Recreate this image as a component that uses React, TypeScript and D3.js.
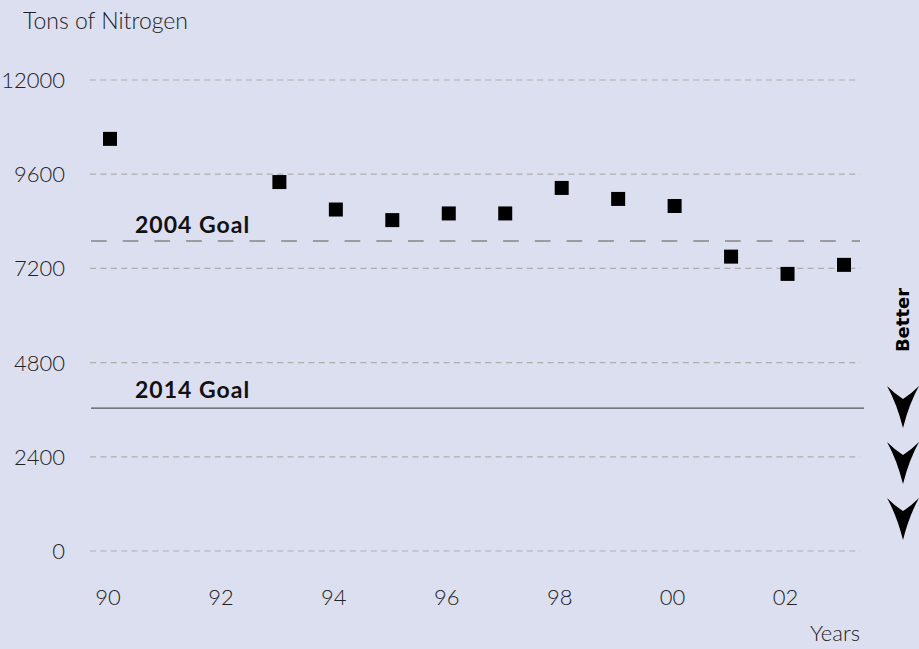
import React from "react";
import * as d3 from "d3";

const years = [1990, 1993, 1994, 1995, 1996, 1997, 1998, 1999, 2000, 2001, 2002, 2003];
const nitrogenTons = [10500, 9400, 8700, 8430, 8600, 8600, 9250, 8970, 8790, 7500, 7060, 7290];
const yTicks = [0, 2400, 4800, 7200, 9600, 12000];
const xTicks = [1990, 1992, 1994, 1996, 1998, 2000, 2002];
const xTickLabels = ["90", "92", "94", "96", "98", "00", "02"];
const goal2004 = 7900;
const goal2014 = 3640;
const arrowCount = [0, 1, 2];

const W = 919;
const H = 649;
const BG = "#dcdff0";
const FONT = "Lato, 'Open Sans', sans-serif";

export default function App() {
  const x = d3.scaleLinear().domain([1990, 2003]).range([110, 844]);
  const y = d3.scaleLinear().domain([0, 12000]).range([551, 80]);
  const gridX0 = 90;
  const gridX1 = 860;
  const sq = 14;

  const arrowPath = (top: number) => {
    const cx = 903;
    const p = d3.path();
    p.moveTo(cx - 16, top);
    p.quadraticCurveTo(cx - 8, top + 8, cx, top + 13);
    p.quadraticCurveTo(cx + 8, top + 8, cx + 16, top);
    p.quadraticCurveTo(cx + 6, top + 18, cx, top + 42);
    p.quadraticCurveTo(cx - 6, top + 18, cx - 16, top);
    p.closePath();
    return p.toString();
  };

  return (
    <svg
      width={W}
      height={H}
      style={{ position: "absolute", left: 0, top: 0, display: "block" }}
    >
      <rect x={0} y={0} width={W} height={H} fill={BG} />
      <text x={23} y={29} fontFamily={FONT} fontSize={23} fontWeight={300} fill="#222">
        Tons of Nitrogen
      </text>

      {yTicks.map((t) => (
        <g key={t}>
          <line
            x1={gridX0}
            x2={gridX1}
            y1={y(t)}
            y2={y(t)}
            stroke="#adadad"
            strokeWidth={1.2}
            strokeDasharray="6 4.4"
          />
          <text
            x={65}
            y={y(t)}
            dy="0.36em"
            textAnchor="end"
            fontFamily={FONT}
            fontSize={22}
            fontWeight={300}
            fill="#222"
          >
            {t}
          </text>
        </g>
      ))}

      {xTicks.map((t, i) => (
        <text
          key={t}
          x={x(t) - 2}
          y={605}
          textAnchor="middle"
          fontFamily={FONT}
          fontSize={22}
          fontWeight={300}
          fill="#222"
        >
          {xTickLabels[i]}
        </text>
      ))}
      <text x={860} y={641} textAnchor="end" fontFamily={FONT} fontSize={22} fontWeight={300} fill="#222">
        Years
      </text>

      <line
        x1={91}
        x2={gridX1}
        y1={y(goal2004)}
        y2={y(goal2004)}
        stroke="#858585"
        strokeWidth={1.6}
        strokeDasharray="15.7 16"
      />
      <text x={135} y={233} fontFamily={FONT} fontSize={23} fontWeight={700} letterSpacing={1} fill="#111">
        2004 Goal
      </text>

      <line x1={91} x2={864} y1={y(goal2014)} y2={y(goal2014)} stroke="#555" strokeWidth={1.4} />
      <text x={135} y={398} fontFamily={FONT} fontSize={23} fontWeight={700} letterSpacing={1} fill="#111">
        2014 Goal
      </text>

      {years.map((yr, i) => (
        <rect
          key={yr}
          x={x(yr) - sq / 2}
          y={y(nitrogenTons[i]) - sq / 2}
          width={sq}
          height={sq}
          fill="#000"
        />
      ))}

      <text
        transform="translate(909,320) rotate(-90)"
        textAnchor="middle"
        fontFamily="'DejaVu Sans', sans-serif"
        fontSize={18}
        fontWeight={700}
        fill="#000"
      >
        Better
      </text>
      {arrowCount.map((k) => (
        <path key={k} d={arrowPath(386 + k * 56)} fill="#000" />
      ))}
    </svg>
  );
}
